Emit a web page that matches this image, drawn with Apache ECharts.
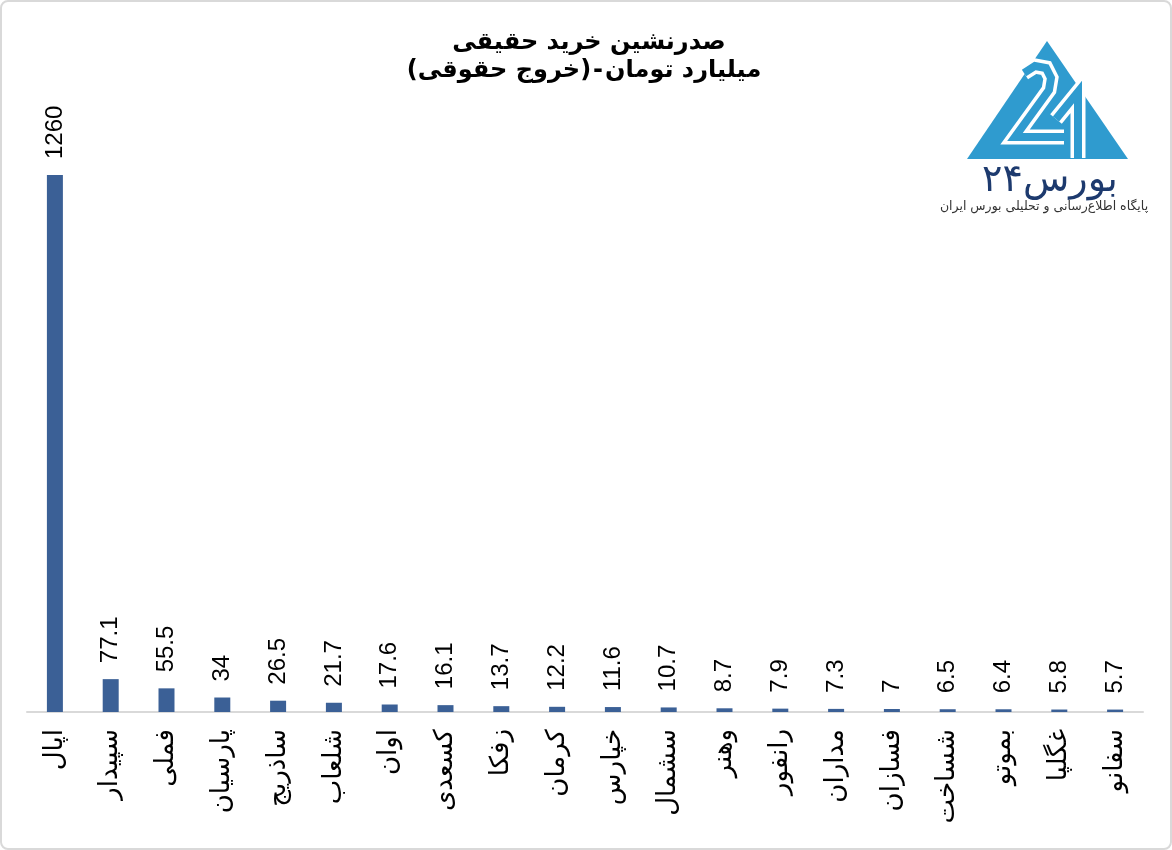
<!DOCTYPE html>
<html><head><meta charset="utf-8">
<script src="https://cdn.jsdelivr.net/npm/echarts@6/dist/echarts.min.js"></script>
<style>
html,body{margin:0;padding:0;background:#fff;}
#wrap{position:absolute;left:0;top:0;width:1168px;height:846px;border:2px solid #d9d9d9;border-radius:8px;}
#chart{position:absolute;left:0;top:0;width:1172px;height:850px;}
</style></head>
<body>
<div id="wrap"></div>
<div id="chart"></div>
<script>
const titleLine1 = 'صدرنشین خرید حقیقی';
const titleLine2Parts = ['(خروج حقوقی)', '-', 'میلیارد تومان'];   // shown left to right
const categories = ['اپال','سپیدار','فملی','پارسیان','ساذریج','شلعاب','اوان','کسعدی','زفکا','کرمان','خپارس','سشمال','وهنر','رانفور','مداران','فسازان','شساخت','بموتو','غگلپا','سفانو'];
const values = [1260,77.1,55.5,34,26.5,21.7,17.6,16.1,13.7,12.2,11.6,10.7,8.7,7.9,7.3,7,6.5,6.4,5.8,5.7];
const logoTitle = 'بورس۲۴';
const logoSub = 'پایگاه اطلاع‌رسانی و تحلیلی بورس ایران';

const chart = echarts.init(document.getElementById('chart'));
const font = "'Liberation Sans', 'DejaVu Sans', sans-serif";
const faFont = "'DejaVu Sans', sans-serif";
const blue = '#2f9bcf';
const twoPath = [[1024,73],[1035,66],[1046,68],[1051,78],[1049,90],[1015,137],[1064,137]];
const fourPath = [[1056,119],[1078,92],[1078,158]];

const mctx = document.createElement('canvas').getContext('2d');
mctx.font = "bold 24px 'DejaVu Sans', sans-serif";
const gap = 2;
const widths = titleLine2Parts.map(t => mctx.measureText(t).width);
const total = widths.reduce((a,b)=>a+b,0) + gap*(titleLine2Parts.length-1);
let cx = 584 - total/2;
const line2Els = titleLine2Parts.map((t,i) => {
  const el = {type:'text', style:{text:t, x:cx, y:71, align:'left', verticalAlign:'middle',
    fontSize:24, fontWeight:'bold', fill:'#000', fontFamily:faFont}};
  cx += widths[i] + gap;
  return el;
});

chart.setOption({
  animation:false,
  backgroundColor:'transparent',
  title:{
    text: titleLine1,
    left: 584, top: 22, textAlign:'center',
    textStyle:{fontFamily:faFont, fontWeight:'bold', fontSize:24, lineHeight:31, color:'#000'}
  },
  grid:{left:27, right:29, top:175, bottom:138},
  xAxis:{
    type:'category', data:categories,
    axisLine:{show:true, lineStyle:{color:'#d9d9d9', width:2}},
    axisTick:{show:false},
    axisLabel:{rotate:90, margin:17, fontSize:26, color:'#000', fontFamily:faFont, interval:0}
  },
  yAxis:{type:'value', min:0, max:1260, show:false, splitLine:{show:false}},
  series:[{
    type:'bar', data:values, barWidth:16,
    itemStyle:{color:'#3b6096'},
    label:{show:true, position:'top', rotate:90, align:'left', verticalAlign:'middle', distance:16,
      fontSize:24, color:'#000', fontFamily:font}
  }],
  graphic:[
    ...line2Els,
    {type:'polygon', shape:{points:[[1047,41],[967,159],[1128,159]]}, style:{fill:blue}},
    {type:'polyline', shape:{points:twoPath}, style:{stroke:'#fff', lineWidth:15, fill:null, lineJoin:'miter'}},
    {type:'polyline', shape:{points:twoPath}, style:{stroke:blue, lineWidth:8, fill:null, lineJoin:'miter'}},
    {type:'polyline', shape:{points:fourPath}, style:{stroke:'#fff', lineWidth:15, fill:null, lineJoin:'miter'}},
    {type:'polyline', shape:{points:fourPath}, style:{stroke:blue, lineWidth:8, fill:null, lineJoin:'miter'}},
    {type:'rect', shape:{x:960, y:159, width:175, height:10}, style:{fill:'#fff'}},
    {type:'text', style:{text:logoTitle, x:1050, y:181, align:'center', verticalAlign:'middle', fontSize:38, fill:'#1d3a6e', fontFamily:faFont}},
    {type:'text', style:{text:logoSub, x:1044, y:207, align:'center', verticalAlign:'middle', fontSize:12.5, fill:'#333', fontFamily:faFont}}
  ]
});
</script>
</body></html>
